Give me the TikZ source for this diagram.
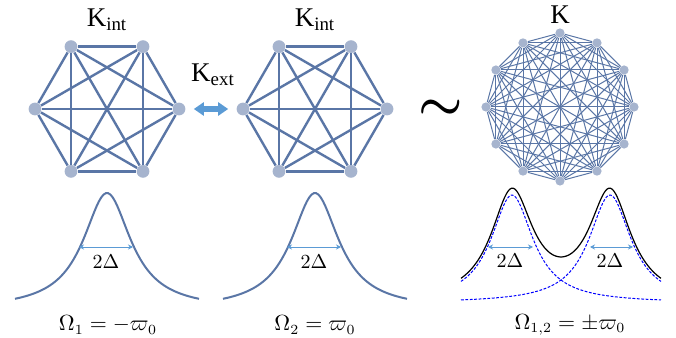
\documentclass[tikz,border=0pt]{standalone}
\usepackage{fontspec}
\setmainfont{Liberation Serif}
\usetikzlibrary{arrows.meta,calc}
\definecolor{edgeblue}{RGB}{90,118,166}
\definecolor{vertgray}{RGB}{166,180,206}
\definecolor{lightblue}{RGB}{91,155,213}
\tikzset{
  vertnode/.style={circle,fill=vertgray,inner sep=0pt,minimum size=6.4pt},
  smallvertnode/.style={circle,fill=vertgray,inner sep=0pt,minimum size=4.6pt},
  graphedge/.style={edgeblue,line width=1.2pt},
  thinedge/.style={edgeblue,line width=0.5pt},
  spectrum/.style={edgeblue,line width=1pt},
  mode/.style={blue,line width=0.5pt,dash pattern=on 1.4pt off 0.8pt},
  widtharrow/.style={lightblue,line width=0.4pt,{Stealth[length=2.5pt,width=2.5pt]}-{Stealth[length=2.5pt,width=2.5pt]}},
  klabel/.style={font=\fontsize{13.5}{14}\selectfont},
  eqlabel/.style={font=\fontsize{10.5}{12}\selectfont}
}
\begin{document}
\begin{tikzpicture}[x=0.5pt,y=0.5pt]
\useasboundingbox (0,0) rectangle (676,338);
% left graph K_int
\foreach \i in {1,...,6}
  \node[vertnode] (L\i) at ($(107,229)+({60*\i}:72)$) {};
\foreach \i in {1,...,5}{
  \pgfmathtruncatemacro\nxt{\i+1}
  \foreach \j in {\nxt,...,6}
    \draw[graphedge] (L\i) -- (L\j);
}
\node[klabel] (kint1) at (107,318) {K\textsubscript{int}};
% second graph K_int
\foreach \i in {1,...,6}
  \node[vertnode] (R\i) at ($(315,229)+({60*\i}:72)$) {};
\foreach \i in {1,...,5}{
  \pgfmathtruncatemacro\nxt{\i+1}
  \foreach \j in {\nxt,...,6}
    \draw[graphedge] (R\i) -- (R\j);
}
\node[klabel] (kint2) at (315,318) {K\textsubscript{int}};
% coupling
\draw[lightblue,line width=2.6pt,shorten <=4pt,shorten >=4pt,{Triangle[length=5pt,width=6.5pt]}-{Triangle[length=5pt,width=6.5pt]}] (L6) -- (R3);
\node[klabel] (kext) at (213,263) {K\textsubscript{ext}};
\node[font=\fontsize{26}{26}\selectfont\boldmath] (tilde) at (441,228) {$\sim$};
% full graph K
\foreach \i in {1,...,12}
  \node[smallvertnode] (K\i) at ($(560,231)+({30*\i}:74)$) {};
\foreach \i in {1,...,11}{
  \pgfmathtruncatemacro\nxt{\i+1}
  \foreach \j in {\nxt,...,12}
    \draw[thinedge] (K\i) -- (K\j);
}
\node[klabel] (kfull) at (560,323) {K};
% spectra
\draw[spectrum,domain=-92:92,samples=80] plot ({107+\x},{28.7+116.3/(1+(\x/29)^2)});
\draw[spectrum,domain=-92:92,samples=80] plot ({315+\x},{28.7+116.3/(1+(\x/29)^2)});
\coordinate (a1l) at (79,91); \coordinate (a1r) at (133,91);
\coordinate (a2l) at (287,91); \coordinate (a2r) at (341,91);
\draw[widtharrow] (a1l) -- (a1r);
\draw[widtharrow] (a2l) -- (a2r);
\node (d1) at (106,76) {$2\Delta$};
\node (d2) at (314,76) {$2\Delta$};
\node[eqlabel] (om1) at (108,13) {$\Omega_1=-\varpi_0$};
\node[eqlabel] (om2) at (315,13) {$\Omega_2=\varpi_0$};
% two modes
\draw[mode,domain=461:661,samples=100] plot (\x,{35+108/(1+((\x-512)/25.5)^2)});
\draw[mode,domain=461:661,samples=100] plot (\x,{35+108/(1+((\x-610)/25.5)^2)});
\draw[black,line width=0.6pt,domain=461:661,samples=120] plot (\x,{35+108/(1+((\x-512)/25.5)^2)+108/(1+((\x-610)/25.5)^2)});
\coordinate (a3l) at (488,91); \coordinate (a3r) at (533,91);
\coordinate (a4l) at (590,91); \coordinate (a4r) at (633,91);
\draw[widtharrow] (a3l) -- (a3r);
\draw[widtharrow] (a4l) -- (a4r);
\node (d3) at (510,77) {$2\Delta$};
\node (d4) at (610,77) {$2\Delta$};
\node[eqlabel] (om3) at (570,13) {$\Omega_{1,2}=\pm\varpi_0$};
\end{tikzpicture}
\end{document}
